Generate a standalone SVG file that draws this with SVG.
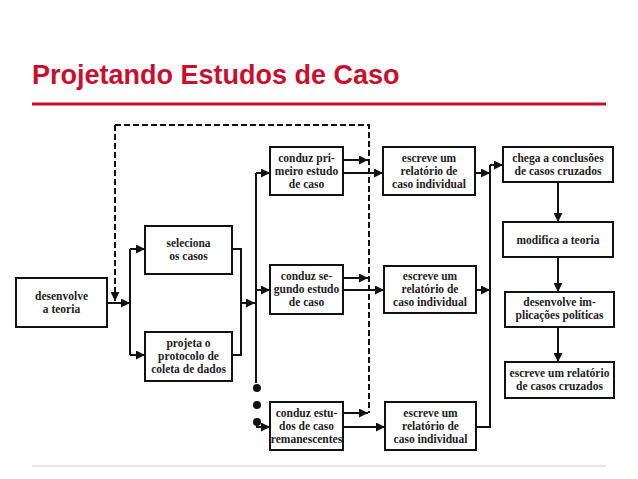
<svg xmlns="http://www.w3.org/2000/svg" width="638" height="479" viewBox="0 0 638 479">
<style>
.b{fill:#fff;stroke:#111;stroke-width:2}
.t{font-family:'Liberation Serif','Times New Roman',serif;font-size:11.5px;font-weight:bold;fill:#222;text-anchor:middle}
.c{fill:none;stroke:#111;stroke-width:2}
.d{fill:none;stroke:#111;stroke-width:2;stroke-dasharray:6,3}
</style>
<defs>
<marker id="m" viewBox="0 0 10 10" refX="10" refY="5" markerWidth="9" markerHeight="9" orient="auto" markerUnits="userSpaceOnUse"><path d="M0,0L10,5L0,10z" fill="#111"/></marker></defs>
<rect width="638" height="479" fill="#fff"/>
<text x="32" y="84" font-family="Liberation Sans,Arial,sans-serif" font-size="27" font-weight="bold" fill="#c8102e">Projetando Estudos de Caso</text>
<line x1="32" y1="104" x2="606" y2="104" stroke="#c8102e" stroke-width="3"/>
<line x1="32" y1="466" x2="606" y2="466" stroke="#e6e6e6" stroke-width="2"/>
<g id="connectors">
<path class="d" d="M115,125H369V413"/>
<path class="d" d="M115,125V301" marker-end="url(#m)"/>
<path class="c" d="M107,303H130" marker-end="url(#m)"/>
<path class="c" d="M130,249V355"/>
<path class="c" d="M130,249H145" marker-end="url(#m)"/>
<path class="c" d="M130,355H145" marker-end="url(#m)"/>
<path class="c" d="M232,249H241V355H232"/>
<path class="c" d="M241,303H255" marker-end="url(#m)"/>
<path class="c" d="M256,173V383"/>
<path class="c" d="M256,173H270" marker-end="url(#m)"/>
<path class="c" d="M256,290H270" marker-end="url(#m)"/>
<path class="c" d="M256,427H270" marker-end="url(#m)"/>
<circle cx="257" cy="388" r="4" fill="#111"/><circle cx="257" cy="405" r="4" fill="#111"/><circle cx="257" cy="422" r="4" fill="#111"/>
<path class="c" d="M343,160H368" marker-end="url(#m)"/>
<path class="c" d="M343,278H368" marker-end="url(#m)"/>
<path class="c" d="M343,413H368" marker-end="url(#m)"/>
<path class="c" d="M343,173H383" marker-end="url(#m)"/>
<path class="c" d="M343,290H384" marker-end="url(#m)"/>
<path class="c" d="M343,427H385" marker-end="url(#m)"/>
<path class="c" d="M475,173H490" marker-end="url(#m)"/>
<path class="c" d="M476,290H490" marker-end="url(#m)"/>
<path class="c" d="M476,427H490V165"/>
<path class="c" d="M490,165H503" marker-end="url(#m)"/>
<path class="c" d="M558,182V222" marker-end="url(#m)"/>
<path class="c" d="M558,257V292" marker-end="url(#m)"/>
<path class="c" d="M558,327V362" marker-end="url(#m)"/>
</g>
<g id="n1"><rect class="b" x="16" y="278" width="91" height="49"/><text class="t" x="61.5" y="300">desenvolve</text><text class="t" x="61.5" y="313">a teoria</text></g>
<g id="n2"><rect class="b" x="145" y="226" width="87" height="48"/><text class="t" x="188.5" y="247">seleciona</text><text class="t" x="188.5" y="260">os casos</text></g>
<g id="n3"><rect class="b" x="145" y="332" width="87" height="49"/><text class="t" x="188.5" y="347">projeta o</text><text class="t" x="188.5" y="360">protocolo de</text><text class="t" x="188.5" y="373">coleta de dados</text></g>
<g id="n4"><rect class="b" x="270" y="147" width="73" height="48"/><text class="t" x="306.5" y="162">conduz pri-</text><text class="t" x="306.5" y="175">meiro estudo</text><text class="t" x="306.5" y="188">de caso</text></g>
<g id="n5"><rect class="b" x="270" y="265" width="73" height="49"/><text class="t" x="306.5" y="280">conduz se-</text><text class="t" x="306.5" y="293">gundo estudo</text><text class="t" x="306.5" y="306">de caso</text></g>
<g id="n6"><rect class="b" x="270" y="402" width="73" height="48"/><text class="t" x="306.5" y="417">conduz estu-</text><text class="t" x="306.5" y="430">dos de caso</text><text class="t" x="306.5" y="443">remanescentes</text></g>
<g id="n7"><rect class="b" x="383" y="147" width="92" height="48"/><text class="t" x="429" y="162">escreve um</text><text class="t" x="429" y="175">relatório de</text><text class="t" x="429" y="188">caso individual</text></g>
<g id="n8"><rect class="b" x="384" y="266" width="92" height="47"/><text class="t" x="430" y="280">escreve um</text><text class="t" x="430" y="293">relatório de</text><text class="t" x="430" y="306">caso individual</text></g>
<g id="n9"><rect class="b" x="385" y="402" width="91" height="48"/><text class="t" x="430.5" y="417">escreve um</text><text class="t" x="430.5" y="430">relatório de</text><text class="t" x="430.5" y="443">caso individual</text></g>
<g id="n10"><rect class="b" x="503" y="147" width="110" height="35"/><text class="t" x="558" y="162">chega a conclusões</text><text class="t" x="558" y="175">de casos cruzados</text></g>
<g id="n11"><rect class="b" x="503" y="222" width="110" height="35"/><text class="t" x="558" y="244">modifica a teoria</text></g>
<g id="n12"><rect class="b" x="505" y="292" width="109" height="35"/><text class="t" x="559.5" y="306">desenvolve im-</text><text class="t" x="559.5" y="319">plicações políticas</text></g>
<g id="n13"><rect class="b" x="505" y="362" width="109" height="36"/><text class="t" x="559.5" y="377">escreve um relatório</text><text class="t" x="559.5" y="390">de casos cruzados</text></g>
</svg>
